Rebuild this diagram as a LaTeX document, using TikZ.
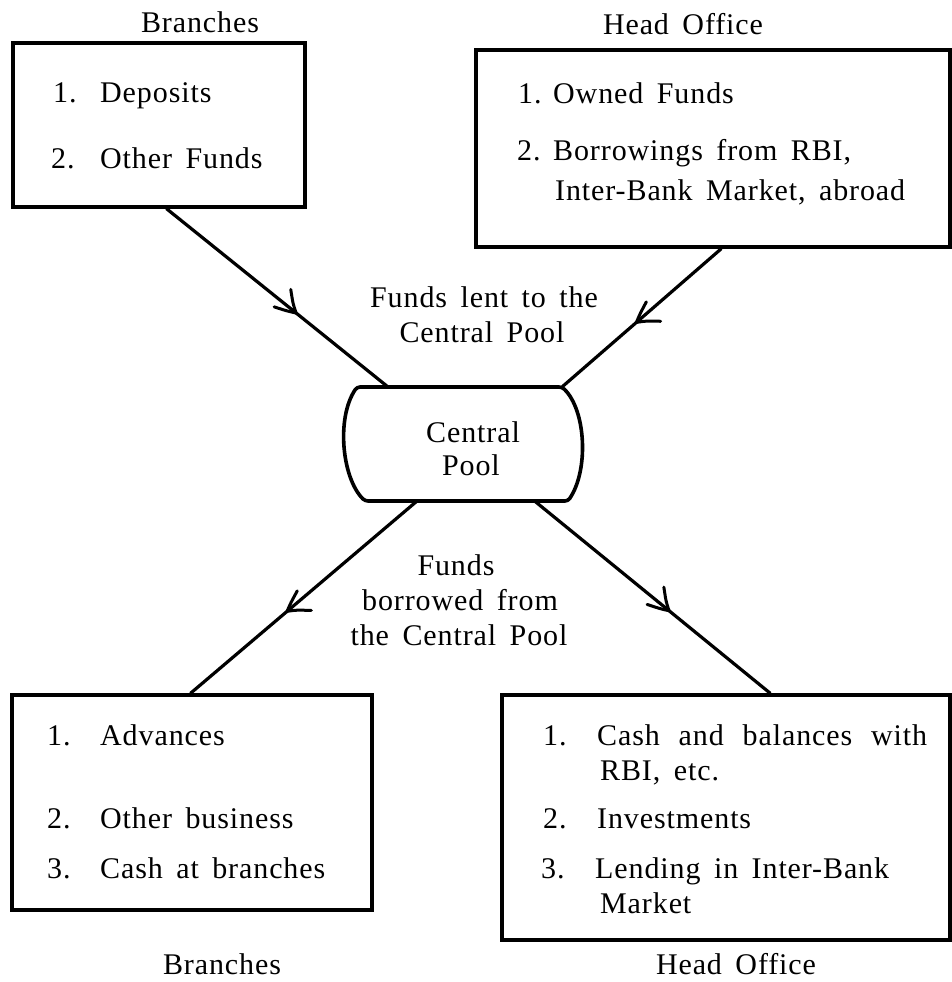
\documentclass[tikz,border=0pt]{standalone}
\usepackage{fontspec}
\setmainfont{Liberation Serif}[LetterSpace=3,WordSpace=1.6]
\usetikzlibrary{decorations.markings,calc}
\begin{document}
\begin{tikzpicture}[x=1pt,y=-1pt,
  every node/.style={inner sep=0pt, font=\fontsize{30}{35}\selectfont},
  box/.style={draw, line width=3.2pt, rectangle},
  lt/.style={anchor=base west},
  ct/.style={anchor=base},
  conn/.style={line width=3.2pt, postaction={decorate},
    decoration={markings, mark=at position #1 with {
      \draw[line width=3pt, line cap=round, line join=round]
        (-19pt,15pt) .. controls (-8pt,5pt) .. (0pt,0pt)
        .. controls (-8pt,-4pt) .. (-21pt,-9pt);}}},
  poolline/.style={line width=3.6pt, rounded corners=3pt}
]
\useasboundingbox (0,0) rectangle (951,982);

% boxes
\node[box, minimum width=292pt, minimum height=164pt] (tl) at (159,125) {};
\node[box, minimum width=474pt, minimum height=197pt] (tr) at (713,148.5) {};
\node[box, minimum width=360pt, minimum height=215pt] (bl) at (192,802.5) {};
\node[box, minimum width=448pt, minimum height=245pt] (br) at (726,817.5) {};

% central pool
\node[minimum width=211pt, minimum height=114pt] (pool) at (462.5,444) {};
\draw[poolline] (460,387) -- (562,387) .. controls (586,410) and (589,470) .. (568,501)
  -- (365,501) .. controls (342,478) and (336,418) .. (357,387) -- cycle;
\node[ct] (pool1) at (473,442) {Central};
\node[ct] (pool2) at (471,475) {Pool};

% connectors
\draw[conn=0.586] ([xshift=155pt]tl.south west) -- ([xshift=31pt]pool.north west);
\draw[conn=0.534] ([xshift=247pt]tr.south west) -- ([xshift=-6pt]pool.north east);
\draw[conn=0.573] ([xshift=60pt]pool.south west) -- ([xshift=180pt]bl.north west);
\draw[conn=0.57] ([xshift=178pt]pool.south west) -- ([xshift=270pt]br.north west);

% headings
\node[ct] (htl) at (200,33) {Branches};
\node[ct] (htr) at (683,35) {Head Office};
\node[ct] (hbl) at (222,974) {Branches};
\node[ct] (hbr) at (736,974) {Head Office};

% top-left box
\node[lt] (tl1n) at (53,102) {1.};
\node[lt] (tl1) at (100,102) {Deposits};
\node[lt] (tl2n) at (51,168) {2.};
\node[lt] (tl2) at (100,168) {Other Funds};

% top-right box
\node[lt] (tr1n) at (518,103) {1.};
\node[lt] (tr1) at (553,103) {Owned Funds};
\node[lt] (tr2n) at (517,160) {2.};
\node[lt] (tr2) at (553,160) {Borrowings from RBI,};
\node[lt] (tr2b) at (555,200) {Inter-Bank Market, abroad};

% labels on connectors
\node[ct] (lent1) at (484,307) {Funds lent to the};
\node[ct] (lent2) at (482,342) {Central Pool};
\node[ct] (bor1) at (456,575) {Funds};
\node[ct] (bor2) at (460,610) {borrowed from};
\node[ct] (bor3) at (459,645) {the Central Pool};

% bottom-left box
\node[lt] (bl1n) at (47,745) {1.};
\node[lt] (bl1) at (100,745) {Advances};
\node[lt] (bl2n) at (47,828) {2.};
\node[lt] (bl2) at (100,828) {Other business};
\node[lt] (bl3n) at (47,878) {3.};
\node[lt] (bl3) at (100,878) {Cash at branches};

% bottom-right box
\node[lt] (br1n) at (543,745) {1.};
\node[lt] (br1) at (597,745) {\makebox[330pt][s]{Cash and balances with}};
\node[lt] (br1b) at (600,780) {RBI, etc.};
\node[lt] (br2n) at (543,828) {2.};
\node[lt] (br2) at (597,828) {Investments};
\node[lt] (br3n) at (541,878) {3.};
\node[lt] (br3) at (595,878) {Lending in Inter-Bank};
\node[lt] (br3b) at (600,913) {Market};
\end{tikzpicture}
\end{document}
